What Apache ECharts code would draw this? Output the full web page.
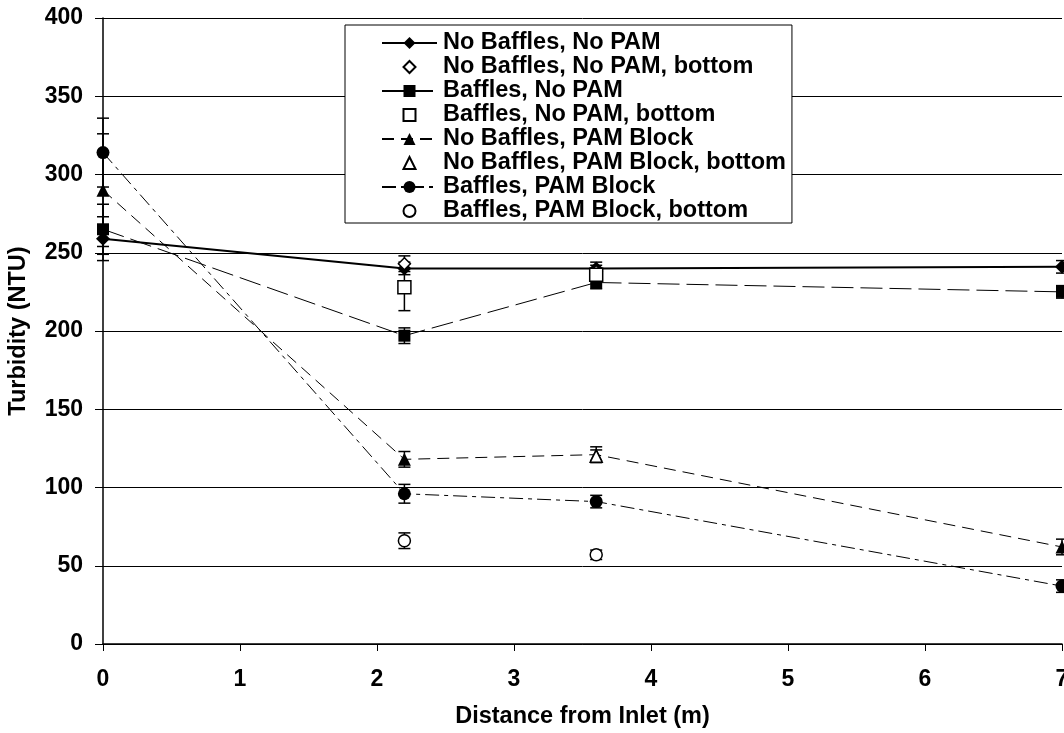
<!DOCTYPE html>
<html><head><meta charset="utf-8">
<script src="https://cdn.jsdelivr.net/npm/echarts@6/dist/echarts.min.js"></script>
<style>html,body{margin:0;padding:0;background:#fff}#c{width:1064px;height:733px}</style>
</head><body><div id="c"></div>
<script>
// ---- data ----
const distances = [0, 2.2, 3.6, 7];
const noBafNoPam = [259, 240, 240, 241];
const noBafNoPamErr = [14, 4, 4, 4];
const bafNoPam = [265, 197, 231, 225];
const bafNoPamErr = [16, 5, 4, 4];
const noBafPam = [290, 118, 121, 62];
const noBafPamErr = [36, 5, 5, 5];
const bafPam = [314, 96, 91, 37];
const bafPamErr = [22, 6, 4, 4];

const bottomX = [2.2, 3.6];
const noBafNoPamBottom = [243, 238];
const noBafNoPamBottomErr = [5, 4];
const bafNoPamBottom = [228, 236];
const bafNoPamBottomErr = [15, 4];
const noBafPamBottom = [null, 120];
const noBafPamBottomErr = [0, 4];
const bafPamBottom = [66, 57];
const bafPamBottomErr = [5, 3];

const yTicks = [0, 50, 100, 150, 200, 250, 300, 350, 400];
const xTicks = [0, 1, 2, 3, 4, 5, 6, 7];

const names = ['No Baffles, No PAM','No Baffles, No PAM, bottom','Baffles, No PAM','Baffles, No PAM, bottom',
  'No Baffles, PAM Block','No Baffles, PAM Block, bottom','Baffles, PAM Block','Baffles, PAM Block, bottom'];

function pts(xs, ys){ const r=[]; xs.forEach((x,i)=>{ if(ys[i]!=null) r.push([x,ys[i]]); }); return r; }
function errs(xs, ys, es){ const r=[]; xs.forEach((x,i)=>{ if(ys[i]!=null && es[i]) r.push([x, ys[i]-es[i], ys[i]+es[i]]); }); return r; }

function errSeries(data){
  return {
    type:'custom', data:data, z:1, silent:true,
    renderItem:function(params, api){
      const x=api.value(0);
      const lo=api.coord([x, api.value(1)]);
      const hi=api.coord([x, api.value(2)]);
      const w=6;
      const st={stroke:'#000', lineWidth:1.5};
      return {type:'group', children:[
        {type:'line', shape:{x1:lo[0],y1:lo[1],x2:hi[0],y2:hi[1]}, style:st},
        {type:'line', shape:{x1:lo[0]-w,y1:lo[1],x2:lo[0]+w,y2:lo[1]}, style:st},
        {type:'line', shape:{x1:hi[0]-w,y1:hi[1],x2:hi[0]+w,y2:hi[1]}, style:st}
      ]};
    }
  };
}

const font = '"Liberation Sans", Arial, sans-serif';
const chart = echarts.init(document.getElementById('c'), null, {renderer:'canvas'});

function lineS(name, ys, symbol, size, lineType, lw){
  return {name:name, type:'line', data:pts(distances, ys), symbol:symbol, symbolSize:size,
    itemStyle:{color:'#000'}, lineStyle:{color:'#000', width:lw, type:lineType}, z:3, animation:false};
}
function botS(name, xs, ys, symbol, size){
  return {name:name, type:'line', data:pts(xs, ys), symbol:symbol, symbolSize:size, showAllSymbol:true,
    itemStyle:{color:'#fff', borderColor:'#000', borderWidth:1.5},
    lineStyle:{opacity:0, width:0}, z:4, animation:false};
}

const option = {
  animation:false,
  backgroundColor:'#fff',
  grid:{left:103, right:2, top:18, bottom:89, outerBoundsMode:'none', containLabel:false},
  xAxis:{type:'value', min:0, max:7, interval:1,
    name:'Distance from Inlet (m)', nameLocation:'middle', nameGap:61,
    nameTextStyle:{fontFamily:font, fontWeight:'bold', fontSize:23.5, color:'#000'},
    axisLine:{lineStyle:{color:'#000', width:1.5}},
    axisTick:{show:true, length:7, lineStyle:{color:'#000'}},
    axisLabel:{fontFamily:font, fontWeight:'bold', fontSize:23, color:'#000', margin:24, showMaxLabel:true},
    splitLine:{show:false}},
  yAxis:{type:'value', min:0, max:400, interval:50,
    name:'Turbidity (NTU)', nameLocation:'middle', nameGap:72, nameRotate:90,
    nameTextStyle:{fontFamily:font, fontWeight:'bold', fontSize:23.5, color:'#000'},
    axisLine:{show:true, lineStyle:{color:'#000', width:1.5}},
    axisTick:{show:true, length:8, lineStyle:{color:'#000'}},
    axisLabel:{fontFamily:font, fontWeight:'bold', fontSize:23, color:'#000', margin:20},
    splitLine:{show:true, lineStyle:{color:'#000', width:1}}},
  legend:{orient:'vertical', left:345, top:25, data:names,
    backgroundColor:'#fff', borderColor:'#000', borderWidth:1,
    padding:[6, 6, 0, 36], itemGap:0, itemWidth:55, itemHeight:15,
    textStyle:{fontFamily:font, fontWeight:'bold', fontSize:23.5, lineHeight:23.8, color:'#000', padding:[0,0,0,1]}},
  series:[
    errSeries(errs(distances, noBafNoPam, noBafNoPamErr)),
    errSeries(errs(distances, bafNoPam, bafNoPamErr)),
    errSeries(errs(distances, noBafPam, noBafPamErr)),
    errSeries(errs(distances, bafPam, bafPamErr)),
    errSeries(errs(bottomX, noBafNoPamBottom, noBafNoPamBottomErr)),
    errSeries(errs(bottomX, bafNoPamBottom, bafNoPamBottomErr)),
    errSeries(errs(bottomX, noBafPamBottom, noBafPamBottomErr)),
    errSeries(errs(bottomX, bafPamBottom, bafPamBottomErr)),
    lineS(names[0], noBafNoPam, 'diamond', 14, 'solid', 2),
    botS(names[1], bottomX, noBafNoPamBottom, 'diamond', 12),
    lineS(names[2], bafNoPam, 'rect', 12, [22, 7], 1),
    botS(names[3], bottomX, bafNoPamBottom, 'rect', 13),
    lineS(names[4], noBafPam, 'triangle', 13, [12, 7], 1),
    botS(names[5], bottomX, noBafPamBottom, 'triangle', 12),
    lineS(names[6], bafPam, 'circle', 13, [14, 5, 4, 5], 1),
    botS(names[7], bottomX, bafPamBottom, 'circle', 12)
  ]
};
chart.setOption(option);
</script></body></html>
